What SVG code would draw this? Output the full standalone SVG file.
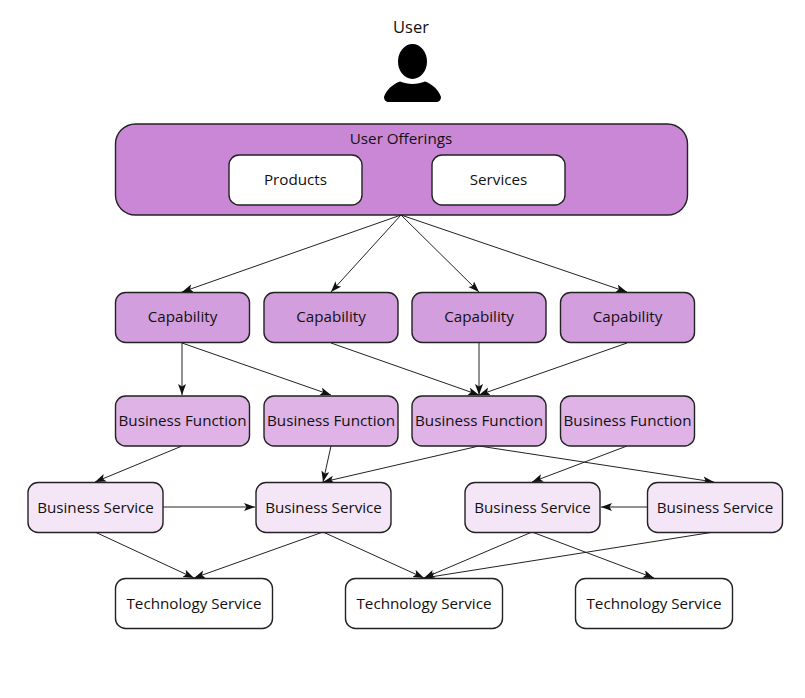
<svg xmlns="http://www.w3.org/2000/svg" width="805" height="698" viewBox="0 0 805 698">
<style>
text{font-family:"Open Sans","Noto Sans",sans-serif;font-size:15.2px;fill:#111;text-anchor:middle;dominant-baseline:central}
.n{stroke:#222;stroke-width:1.4}
.c{fill:#d39edd}.f{fill:#dfb3e6}.s{fill:#f4e6f7}.t,.w{fill:#fff}
#connectors line{stroke:#222;stroke-width:1;marker-end:url(#a)}
</style>
<defs>
<marker id="a" markerUnits="userSpaceOnUse" markerWidth="12" markerHeight="10" refX="11" refY="4" orient="auto"><path d="M0 0L11 4L0 8L2.500 4Z" fill="#111"/></marker>
</defs>
<rect width="805" height="698" fill="#fff"/>
<g id="connectors">
<line x1="401" y1="215" x2="182" y2="292"/>
<line x1="401" y1="215" x2="331" y2="292"/>
<line x1="401" y1="215" x2="479" y2="292"/>
<line x1="401" y1="215" x2="627" y2="292"/>
<line x1="182" y1="343" x2="182" y2="395"/>
<line x1="182" y1="343" x2="331" y2="395"/>
<line x1="331" y1="343" x2="479" y2="395"/>
<line x1="479" y1="343" x2="479" y2="395"/>
<line x1="627" y1="343" x2="479" y2="395"/>
<line x1="182" y1="446" x2="95" y2="482"/>
<line x1="331" y1="446" x2="323" y2="482"/>
<line x1="479" y1="446" x2="323" y2="482"/>
<line x1="627" y1="446" x2="532" y2="482"/>
<line x1="479" y1="446" x2="714" y2="482"/>
<line x1="163" y1="507" x2="255" y2="507"/>
<line x1="647" y1="507" x2="601" y2="507"/>
<line x1="95" y1="532" x2="194" y2="578"/>
<line x1="323" y1="532" x2="194" y2="578"/>
<line x1="323" y1="532" x2="424" y2="578"/>
<line x1="532" y1="532" x2="424" y2="578"/>
<line x1="714" y1="532" x2="424" y2="578"/>
<line x1="532" y1="532" x2="654" y2="578"/>
</g>
<g id="user">
<text x="411" y="26.500" style="font-size:16.500px">User</text>
<ellipse cx="412.500" cy="61.500" rx="14.500" ry="17.500" fill="#000"/>
<path d="M384 97C386 90 393 84 400 81.500C404 83 408 84 412.500 84C417 84 421 83 425 81.500C432 84 439 90 441 97C441 100 439 102 436 102H389C386 102 384 100 384 97Z" fill="#000"/>
</g>
<g id="offerings"><rect class="n" x="115.500" y="124" width="572" height="91" rx="20" fill="#c987d6"/><text x="401" y="138">User Offerings</text></g>
<g id="products"><rect class="n w" x="229" y="155" width="133" height="50" rx="10"/><text x="295.500" y="179">Products</text></g>
<g id="services"><rect class="n w" x="432" y="155" width="133" height="50" rx="10"/><text x="498.500" y="179">Services</text></g>
<g id="cap1"><rect class="n c" x="115.500" y="292.500" width="134" height="50" rx="10"/><text x="182.500" y="316">Capability</text></g>
<g id="cap2"><rect class="n c" x="264" y="292.500" width="134" height="50" rx="10"/><text x="331" y="316">Capability</text></g>
<g id="cap3"><rect class="n c" x="412" y="292.500" width="134" height="50" rx="10"/><text x="479" y="316">Capability</text></g>
<g id="cap4"><rect class="n c" x="560.500" y="292.500" width="134" height="50" rx="10"/><text x="627.500" y="316">Capability</text></g>
<g id="fn1"><rect class="n f" x="115.500" y="396" width="134" height="50" rx="10"/><text x="182.500" y="420">Business Function</text></g>
<g id="fn2"><rect class="n f" x="264" y="396" width="134" height="50" rx="10"/><text x="331" y="420">Business Function</text></g>
<g id="fn3"><rect class="n f" x="412" y="396" width="134" height="50" rx="10"/><text x="479" y="420">Business Function</text></g>
<g id="fn4"><rect class="n f" x="560.500" y="396" width="134" height="50" rx="10"/><text x="627.500" y="420">Business Function</text></g>
<g id="bs1"><rect class="n s" x="28" y="482.500" width="135" height="50" rx="10"/><text x="95.500" y="507">Business Service</text></g>
<g id="bs2"><rect class="n s" x="256" y="482.500" width="135" height="50" rx="10"/><text x="323.500" y="507">Business Service</text></g>
<g id="bs3"><rect class="n s" x="465" y="482.500" width="135" height="50" rx="10"/><text x="532.500" y="507">Business Service</text></g>
<g id="bs4"><rect class="n s" x="647.500" y="482.500" width="135" height="50" rx="10"/><text x="715" y="507">Business Service</text></g>
<g id="ts1"><rect class="n t" x="115.500" y="578.500" width="157" height="50" rx="10"/><text x="194" y="603">Technology Service</text></g>
<g id="ts2"><rect class="n t" x="345.500" y="578.500" width="157" height="50" rx="10"/><text x="424" y="603">Technology Service</text></g>
<g id="ts3"><rect class="n t" x="575.500" y="578.500" width="157" height="50" rx="10"/><text x="654" y="603">Technology Service</text></g>
</svg>
